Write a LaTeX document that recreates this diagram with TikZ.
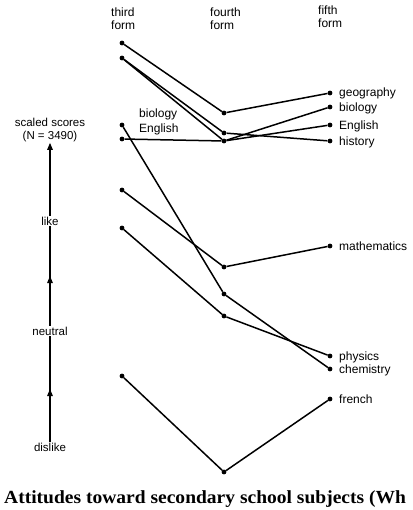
\documentclass[tikz,border=0pt]{standalone}
\usepackage{fontspec}
\setmainfont{Liberation Serif}
\setsansfont{Liberation Sans}
\usetikzlibrary{decorations.markings,arrows.meta}
\begin{document}
\begin{tikzpicture}[x=1pt,y=-1pt,
  pt/.style={circle,fill=black,inner sep=0pt,minimum size=4.8pt},
  seg/.style={line width=1.5pt},
  lab/.style={font=\sffamily\fontsize{12}{13}\selectfont,inner sep=0pt},
  head/.style={font=\sffamily\fontsize{12}{13}\selectfont,inner sep=0pt,align=left,anchor=north west},
  axl/.style={font=\sffamily\fontsize{11.5}{12.5}\selectfont,inner sep=1pt,align=center},
  axis/.style={line width=1.3pt},
  midarrow/.style={decoration={markings,mark=at position 0.5 with {\arrow{Triangle[length=7pt,width=5.5pt]}}},postaction={decorate}}
]
\useasboundingbox (0,0) rectangle (412,510);
% column headings
\node[head] (h3) at (111,8) {third\\form};
\node[head] (h4) at (210,8) {fourth\\form};
\node[head] (h5) at (318,6) {fifth\\form};
% third form points
\node[pt] (t1) at (122,43) {};
\node[pt] (t2) at (122,58) {};
\node[pt] (t3) at (122,125) {};
\node[pt] (t4) at (122,139) {};
\node[pt] (t5) at (122,190) {};
\node[pt] (t6) at (122,228) {};
\node[pt] (t7) at (122,376) {};
% fourth form points
\node[pt] (f1) at (224,113) {};
\node[pt] (f2) at (224,133) {};
\node[pt] (f3) at (224,141) {};
\node[pt] (f4) at (224,267) {};
\node[pt] (f5) at (224,294) {};
\node[pt] (f6) at (224,316) {};
\node[pt] (f7) at (224,472) {};
% fifth form points
\node[pt] (geo) at (330,93) {};
\node[pt] (bio) at (330,107) {};
\node[pt] (eng) at (330,125) {};
\node[pt] (his) at (330,141) {};
\node[pt] (mat) at (330,246) {};
\node[pt] (phy) at (330,356) {};
\node[pt] (che) at (330,369) {};
\node[pt] (fre) at (330,399) {};
% fifth form labels
\node[lab,anchor=base west] (lgeo) at (339,97) {geography};
\node[lab,anchor=base west] (lbio) at (339,111.5) {biology};
\node[lab,anchor=base west] (leng) at (339,129.5) {English};
\node[lab,anchor=base west] (lhis) at (339,145.5) {history};
\node[lab,anchor=base west] (lmat) at (339,250.5) {mathematics};
\node[lab,anchor=base west] (lphy) at (339,360.5) {physics};
\node[lab,anchor=base west] (lche) at (339,373.5) {chemistry};
\node[lab,anchor=base west] (lfre) at (339,403.5) {french};
% left labels
\node[lab,anchor=base west] (lb3) at (139,117.5) {biology};
\node[lab,anchor=base west] (le3) at (139,132.5) {English};
% connectors
\draw[seg] (t1) -- (f1) -- (geo);
\draw[seg] (t2) -- (f2) -- (his);
\draw[seg] (t2) -- (f3);
\draw[seg] (t4) -- (f3);
\draw[seg] (f3) -- (bio);
\draw[seg] (f3) -- (eng);
\draw[seg] (t3) -- (f5) -- (che);
\draw[seg] (t5) -- (f4) -- (mat);
\draw[seg] (t6) -- (f6) -- (phy);
\draw[seg] (t7) -- (f7) -- (fre);
% axis
\node[axl] (sc) at (50,130) {scaled scores\\(N = 3490)};
\node[axl] (like) at (50,221) {like};
\node[axl] (neu) at (50,331) {neutral};
\node[axl] (dis) at (50,447) {dislike};
\draw[axis,midarrow] (dis) -- (neu);
\draw[axis,midarrow] (neu) -- (like);
\draw[axis,-{Triangle[length=7pt,width=5.5pt]}] (like) -- (sc);
% caption
\node[font=\bfseries\fontsize{18.5}{20}\selectfont,anchor=base west,inner sep=0pt,xscale=1.055] (cap) at (4,503) {Attitudes toward secondary school subjects (Wh};
\end{tikzpicture}
\end{document}
